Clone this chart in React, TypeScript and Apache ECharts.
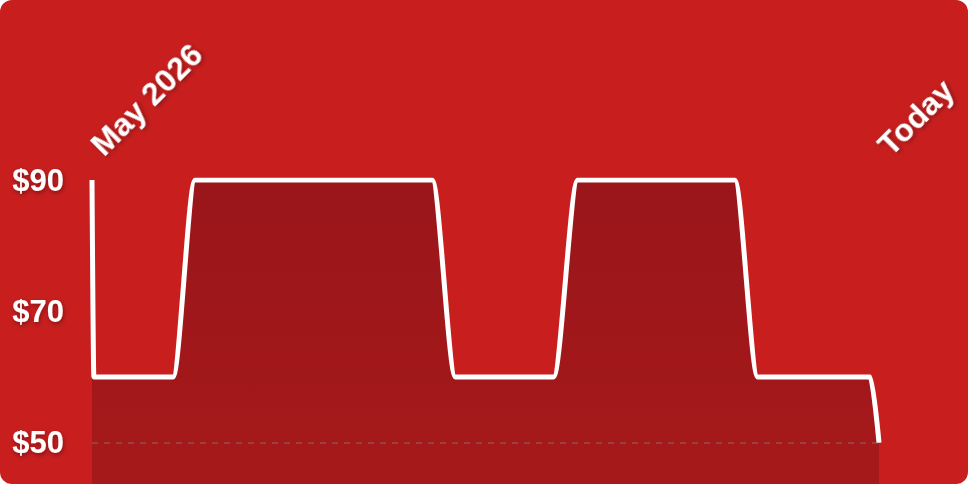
import { useEffect, useRef } from 'react';
import * as echarts from 'echarts';

// days since the start of the range, and the price at each change point
const dayOffsets = [0, 0.08, 3.5, 4.45, 14.7, 15.7, 19.94, 20.98, 27.77, 28.76, 33.62, 34];
const prices = [90, 60, 60, 90, 90, 60, 60, 90, 90, 60, 60, 50];
const startLabel = 'May 2026';
const endLabel = 'Today';
const priceLabels = [50, 70, 90];
const floorPrice = 50;

const textShadow = {
  textShadowColor: 'rgba(0, 0, 0, 0.35)',
  textShadowBlur: 4,
  textShadowOffsetX: 1,
  textShadowOffsetY: 2,
};

export default function App() {
  const chartRef = useRef<HTMLDivElement>(null);

  useEffect(() => {
    document.body.style.margin = '0';
    if (!chartRef.current) return;
    const chart = echarts.init(chartRef.current, undefined, { renderer: 'svg' });
    const lastDay = dayOffsets[dayOffsets.length - 1];

    const option: any = {
      animation: false,
      backgroundColor: 'transparent',
      grid: { left: 92, right: 89, top: 180, bottom: 0, outerBoundsMode: 'none', containLabel: false },
      xAxis: {
        type: 'value',
        position: 'top',
        min: 0,
        max: lastDay,
        interval: lastDay,
        axisLine: { show: false },
        axisTick: { show: false },
        splitLine: { show: false },
        axisLabel: {
          rotate: -45,
          margin: 26,
          padding: [0, 0, 0, 6],
          color: '#fff',
          fontSize: 32,
          fontWeight: 'bold',
          fontFamily: 'Liberation Sans, Arial, sans-serif',
          showMinLabel: true,
          showMaxLabel: true,
          hideOverlap: false,
          formatter: (v: number) => (v === 0 ? startLabel : v === lastDay ? endLabel : ''),
          ...textShadow,
        },
      },
      yAxis: {
        type: 'value',
        min: 30,
        max: 90,
        interval: 10,
        axisLine: { show: false },
        axisTick: { show: false },
        splitLine: { show: false },
        axisLabel: {
          margin: 28,
          color: '#fff',
          fontSize: 31,
          fontWeight: 'bold',
          fontFamily: 'Liberation Sans, Arial, sans-serif',
          formatter: (v: number) => (priceLabels.includes(v) ? '$' + v : ''),
          ...textShadow,
        },
      },
      series: [
        {
          type: 'line',
          data: dayOffsets.map((d, i) => [d, prices[i]]),
          smooth: 0.3,
          smoothMonotone: 'x',
          showSymbol: false,
          lineStyle: { color: '#fff', width: 5, cap: 'butt' },
          areaStyle: {
            opacity: 1,
            color: new echarts.graphic.LinearGradient(0, 0, 0, 1, [
              { offset: 0, color: '#9a161a' },
              { offset: 1, color: '#aa1a1a' },
            ]),
          },
          markLine: {
            silent: true,
            symbol: 'none',
            label: { show: false },
            lineStyle: { color: 'rgba(128, 128, 128, 0.4)', type: [6, 6], width: 2 },
            data: [{ yAxis: floorPrice }],
          },
        },
      ],
    };

    chart.setOption(option);
    return () => chart.dispose();
  }, []);

  return (
    <div
      style={{
        position: 'fixed',
        left: 0,
        top: 0,
        width: 968,
        height: 484,
        borderRadius: 12,
        overflow: 'hidden',
        background: '#c81e1e',
      }}
    >
      <div ref={chartRef} style={{ width: 968, height: 574 }} />
    </div>
  );
}
